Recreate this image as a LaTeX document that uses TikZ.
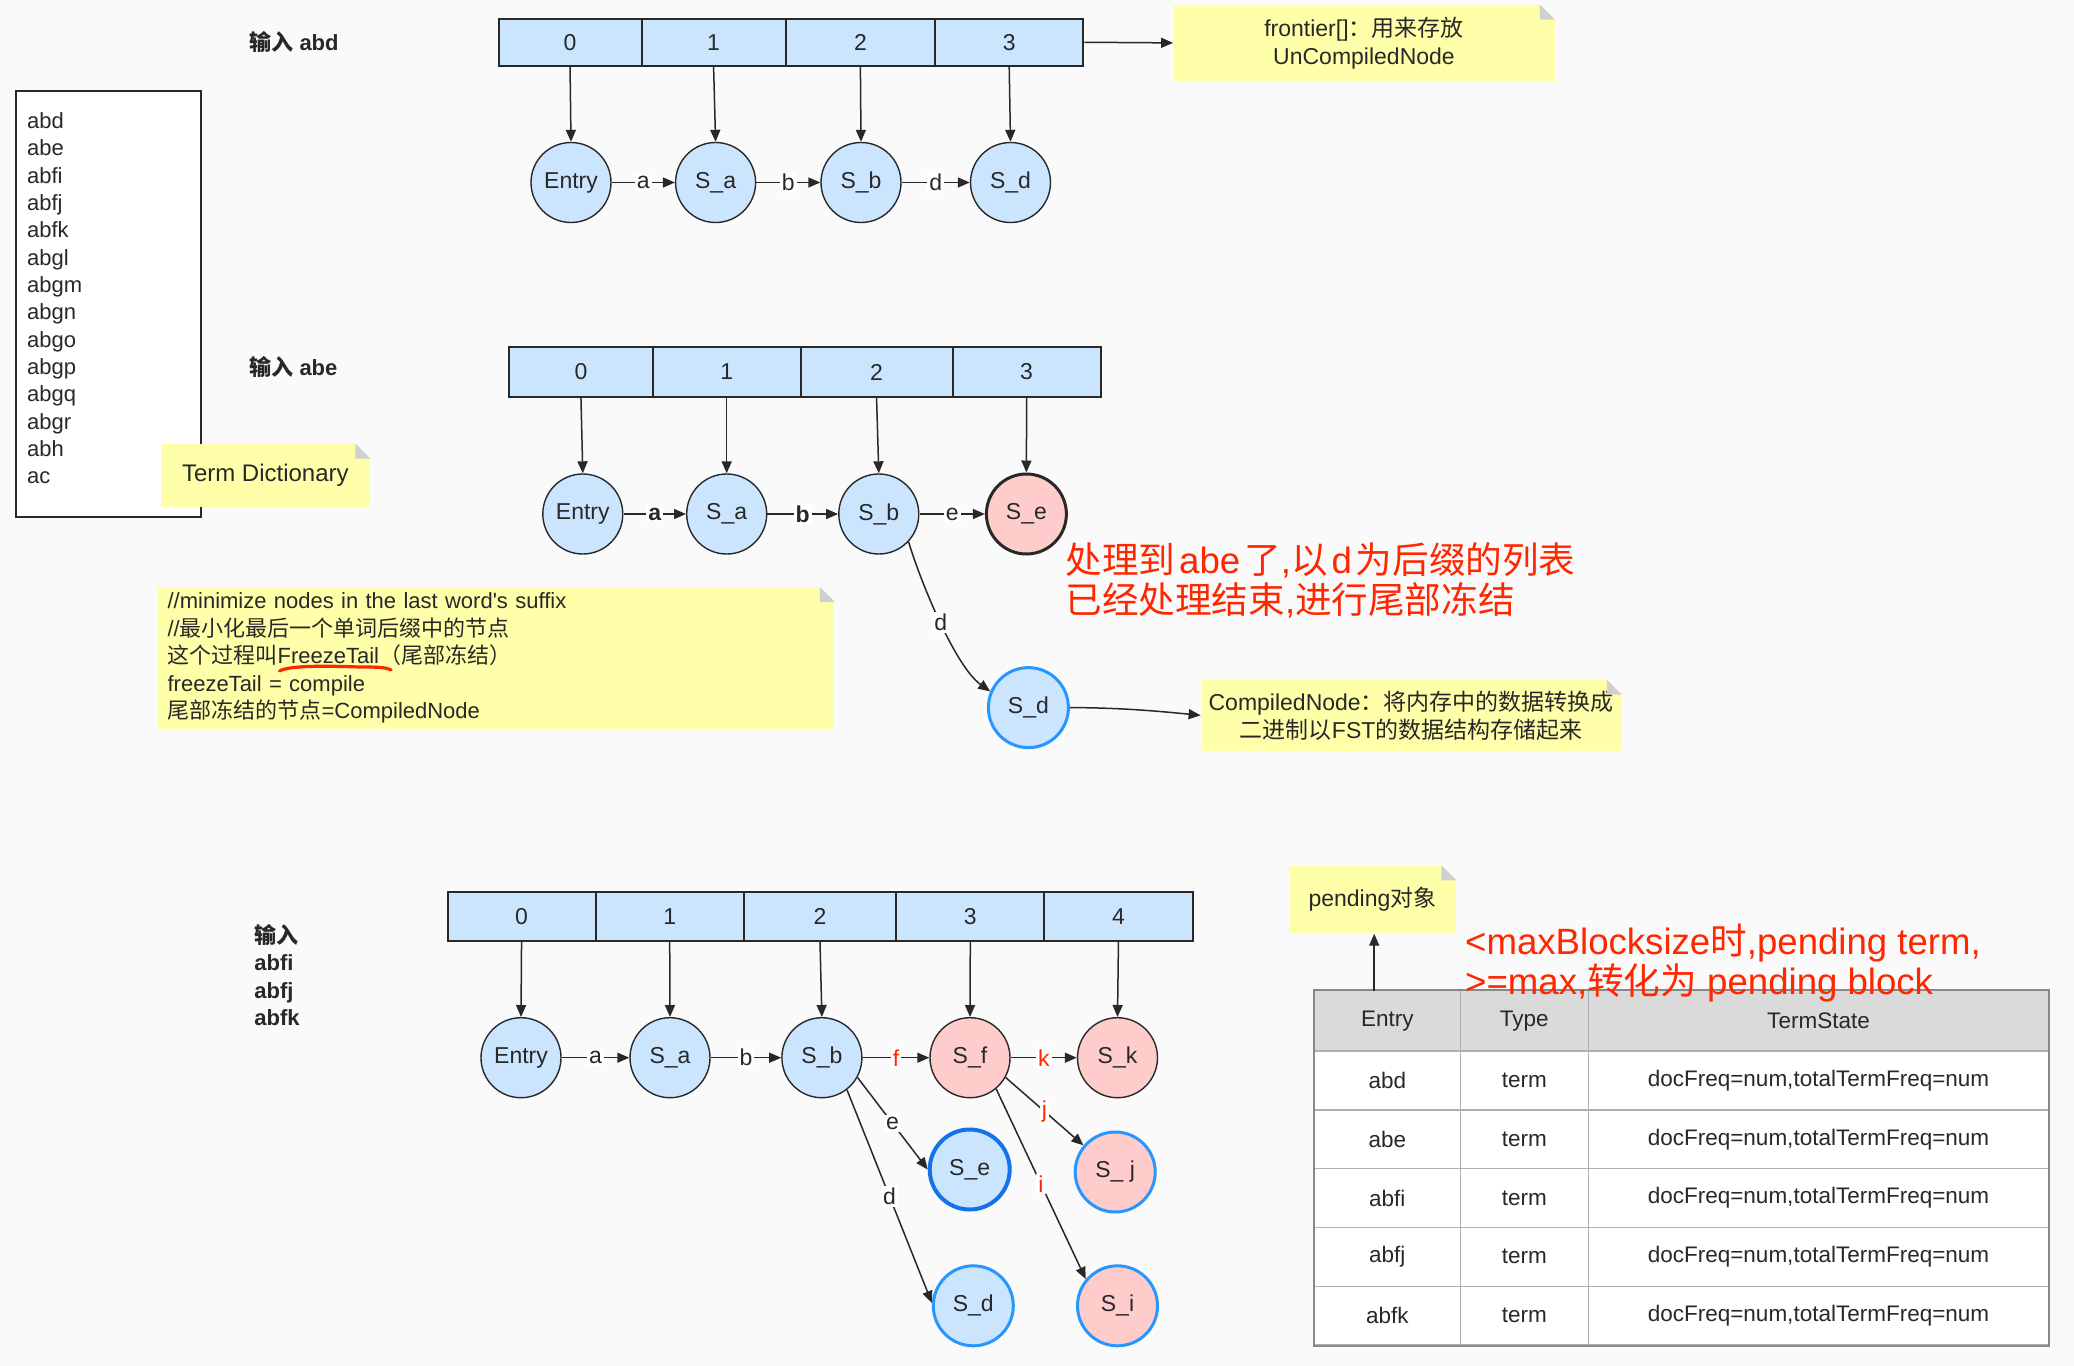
\documentclass[tikz,border=0pt]{standalone}
\usepackage{fontspec}
\setmainfont{Liberation Sans}[Ligatures=TeXOff]
\newfontfamily\cjk{Noto Sans CJK SC}
\usetikzlibrary{arrows.meta,calc}

\definecolor{bgc}{RGB}{250,250,250}
\definecolor{nodeblue}{RGB}{204,229,255}
\definecolor{nodepink}{RGB}{255,204,204}
\definecolor{noteyel}{RGB}{255,255,170}
\definecolor{foldgrey}{RGB}{208,208,208}
\definecolor{ink}{RGB}{40,40,40}
\definecolor{hired}{RGB}{255,38,0}
\definecolor{doneblue}{RGB}{40,150,255}
\definecolor{deepblue}{RGB}{20,115,232}
\definecolor{tabhead}{RGB}{218,218,218}
\definecolor{tabline}{RGB}{176,176,176}
\definecolor{tabedge}{RGB}{136,136,136}

\tikzset{
  txt/.style={font=\fontsize{11.5}{14}\selectfont, text=ink},
  smalltxt/.style={font=\fontsize{11}{13.7}\selectfont, text=ink},
  txtb/.style={font=\fontsize{11}{13.7}\selectfont\bfseries, text=ink},
  state/.style={circle, draw=ink, line width=0.7pt, fill=nodeblue,
    minimum size=40pt, inner sep=0pt, txt},
  hot/.style={state, fill=nodepink},
  frozen/.style={line width=1.5pt, draw=doneblue},
  cell/.style={rectangle, draw=ink, line width=1pt, fill=nodeblue,
    inner sep=0pt, txt},
  arr/.style={draw=ink, line width=0.75pt, -{Triangle[length=6pt,width=5pt]}},
  elab/.style={fill=white, inner sep=1pt, txt},
  note/.style={fill=noteyel, inner sep=0pt, txt},
  redtxt/.style={font=\fontsize{18.3}{20}\selectfont, text=hired},
  tcell/.style={rectangle, draw=tabline, line width=0.7pt, fill=white,
    inner sep=0pt, font=\fontsize{11.25}{13.7}\selectfont, text=ink},
}

% folded top-right corner of a sticky note
\newcommand\notefold[1]{%
  \fill[bgc] (#1.north east) -- ++(-15,0) -- ++(15,15) -- cycle;
  \fill[foldgrey] ($(#1.north east)+(-15,0)$) -- ++(0,15) -- ++(15,0) -- cycle;}
\newcommand\gap{\hspace{2pt}}

\begin{document}
\begin{tikzpicture}[x=0.5pt,y=-0.5pt]
\fill[bgc] (0,0) rectangle (2074,1366);
\useasboundingbox (0,0) rectangle (2074,1366);

% ---------- term dictionary ----------
\node[draw=ink, fill=white, line width=0.75pt, minimum width=92.5pt,
      minimum height=213pt, inner sep=0pt] (dict) at (108.5,304) {};
\foreach \w [count=\i] in {abd,abe,abfi,abfj,abfk,abgl,abgm,abgn,abgo,abgp,abgq,abgr,abh,ac}
  \node[smalltxt, anchor=base west, inner sep=0pt] (w\i) at (26.7,{128.3+27.36*(\i-1)}) {\w};
\node[note, font=\fontsize{12}{14}\selectfont, minimum width=104.65pt, minimum height=31.35pt]
      (termdict) at (265.35,475.35) {Term Dictionary};
\notefold{termdict}

% ---------- step 1: input abd ----------
\node[txtb, anchor=west, inner sep=0pt] (in1) at (249,41.7) {{\cjk 输入} abd};
\node[cell, minimum width=71.45pt, minimum height=23.75pt] (r1c0) at (570.05,42.25) {0};
\node[cell, minimum width=72.1pt,  minimum height=23.75pt] (r1c1) at (713.6,42.25) {1};
\node[cell, minimum width=74.7pt,  minimum height=23.75pt] (r1c2) at (860.4,42.25) {2};
\node[cell, minimum width=74.1pt,  minimum height=23.75pt] (r1c3) at (1009.2,42.25) {3};

\node[note, minimum width=190.55pt, minimum height=37.85pt, align=center] (frontier)
      at (1364,42.9) {frontier[]{\cjk ：用来存放}\\UnCompiledNode};
\notefold{frontier}
\draw[arr] (r1c3.east) -- (frontier.west);

\node[state] (e1)  at (571,182.5)   {Entry};
\node[state] (sa1) at (715.6,182.5) {S\_a};
\node[state] (sb1) at (861,182.5)   {S\_b};
\node[state] (sd1) at (1010.5,182.5) {S\_d};
\draw[arr] (r1c0.south) -- (e1.north);
\draw[arr] (r1c1.south) -- (sa1.north);
\draw[arr] (r1c2.south) -- (sb1.north);
\draw[arr] (r1c3.south) -- (sd1.north);
\draw[arr] (e1) -- node[elab] {a} (sa1);
\draw[arr] (sa1) -- node[elab] {b} (sb1);
\draw[arr] (sb1) -- node[elab] {d} (sd1);

% ---------- step 2: input abe ----------
\node[txtb, anchor=west, inner sep=0pt] (in2) at (249,367) {{\cjk 输入} abe};
\node[cell, minimum width=71.95pt, minimum height=24.7pt] (r2c0) at (580.95,372) {0};
\node[cell, minimum width=73.8pt,  minimum height=24.7pt] (r2c1) at (726.7,372) {1};
\node[cell, minimum width=76.05pt, minimum height=24.7pt] (r2c2) at (876.55,372) {2};
\node[cell, minimum width=74pt,    minimum height=24.7pt] (r2c3) at (1026.6,372) {3};

\node[state] (e2)  at (582.8,514) {Entry};
\node[state] (sa2) at (726.7,514) {S\_a};
\node[state] (sb2) at (878.8,514) {S\_b};
\node[hot, line width=1.5pt] (se2) at (1026.4,514) {S\_e};
\node[state, frozen] (sd2) at (1028.4,707.6) {S\_d};
\draw[arr] (r2c0.south) -- (e2.north);
\draw[arr] (r2c1.south) -- (sa2.north);
\draw[arr] (r2c2.south) -- (sb2.north);
\draw[arr] (r2c3.south) -- (se2.north);
\draw[arr] (e2) -- node[elab, font=\fontsize{11.5}{14}\selectfont\bfseries] {a} (sa2);
\draw[arr] (sa2) -- node[elab, font=\fontsize{11.5}{14}\selectfont\bfseries] {b} (sb2);
\draw[arr] (sb2) -- node[elab] {e} (se2);
\draw[arr] (sb2.-43) .. controls +(12,40) and +(-35,-25) .. node[elab] {d} (sd2.157);

\node[redtxt, anchor=west, align=left, inner sep=0pt] (remark1) at (1065,580.3)
  {{\cjk 处理到}\gap abe\gap{\cjk 了},{\cjk 以}\gap d\gap{\cjk 为后缀的列表}\\{\cjk 已经处理结束},{\cjk 进行尾部冻结}};

\node[note, minimum width=210.2pt, minimum height=35.35pt, align=center] (compiled)
      at (1411.2,715.35) {CompiledNode{\cjk ：将内存中的数据转换成}\\{\cjk 二进制以}FST{\cjk 的数据结构存储起来}};
\notefold{compiled}
\draw[arr] (sd2.east) .. controls +(50,0) and +(-40,-4) .. (compiled.west);

\node[note, smalltxt, minimum width=338.4pt, minimum height=70.7pt, align=left,
      text width=328.4pt, inner xsep=5pt] (freeze) at (496,658)
  {//minimize nodes in the last word's suffix\\
   //{\cjk 最小化最后一个单词后缀中的节点}\\
   {\cjk 这个过程叫}FreezeTail{\cjk （尾部冻结）}\\
   freezeTail = compile\\
   {\cjk 尾部冻结的节点}=CompiledNode};
\notefold{freeze}
\draw[hired, line width=1.6pt, line cap=round]
  (279.5,671) .. controls (290,665) and (330,666) .. (360,667)
  .. controls (375,667) and (386,667) .. (391,670);

% ---------- step 3: input abfi, abfj, abfk ----------
\node[txtb, anchor=west, align=left, inner sep=0pt] (in3) at (254,975)
  {{\cjk 输入}\\abfi\\abfj\\abfk};
\node[cell, minimum width=74.05pt, minimum height=24.65pt] (r3c0) at (521.55,916.35) {0};
\node[cell, minimum width=74.1pt,  minimum height=24.65pt] (r3c1) at (669.7,916.35) {1};
\node[cell, minimum width=76.25pt, minimum height=24.65pt] (r3c2) at (820,916.35) {2};
\node[cell, minimum width=74.1pt,  minimum height=24.65pt] (r3c3) at (970.3,916.35) {3};
\node[cell, minimum width=74.05pt, minimum height=24.65pt] (r3c4) at (1118.45,916.35) {4};

\node[state] (e3)  at (521,1057.7)   {Entry};
\node[state] (sa3) at (670,1057.7)   {S\_a};
\node[state] (sb3) at (821.9,1057.7) {S\_b};
\node[hot]   (sf3) at (970,1057.7)   {S\_f};
\node[hot]   (sk3) at (1117.5,1057.7) {S\_k};
\node[state, line width=2pt, draw=deepblue] (se3) at (969.7,1169.5) {S\_e};
\node[hot, frozen]   (sj3) at (1115.2,1172)  {S\_ j};
\node[state, frozen] (sd3) at (973.3,1305.8) {S\_d};
\node[hot, frozen]   (si3) at (1117.5,1305.8) {S\_i};

\draw[arr] (r3c0.south) -- (e3.north);
\draw[arr] (r3c1.south) -- (sa3.north);
\draw[arr] (r3c2.south) -- (sb3.north);
\draw[arr] (r3c3.south) -- (sf3.north);
\draw[arr] (r3c4.south) -- (sk3.north);
\draw[arr] (e3) -- node[elab] {a} (sa3);
\draw[arr] (sa3) -- node[elab] {b} (sb3);
\draw[arr] (sb3) -- node[elab, text=hired] {f} (sf3);
\draw[arr] (sf3) -- node[elab, text=hired] {k} (sk3);
\draw[arr] (sb3.-29) -- node[elab] {e} (se3.180);
\draw[arr] (sb3.-52) -- node[elab] {d} (sd3.176);
\draw[arr] (sf3.-29) -- node[elab, text=hired] {j} (sj3.140);
\draw[arr] (sf3.-50) -- node[elab, text=hired] {i} (si3.140);

% ---------- pending table ----------
\node[tcell, fill=tabhead, minimum width=72.95pt, minimum height=30.15pt] (hE) at (1387.35,1020.85) {Entry};
\node[tcell, fill=tabhead, minimum width=64.05pt, minimum height=30.15pt] (hT) at (1524.35,1020.85) {Type};
\node[tcell, fill=tabhead, minimum width=230.1pt, minimum height=30.15pt] (hS) at (1818.5,1020.85) {TermState};
\foreach \w [count=\i] in {abd,abe,abfi,abfj,abfk} {
  \node[tcell, minimum width=72.95pt, minimum height=29.4pt] (t\i e) at (1387.35,{1021.6+58.8*\i}) {\w};
  \node[tcell, minimum width=64.05pt, minimum height=29.4pt] (t\i t) at (1524.35,{1021.6+58.8*\i}) {term};
  \node[tcell, minimum width=230.1pt, minimum height=29.4pt] (t\i s) at (1818.5,{1021.6+58.8*\i}) {docFreq=num,totalTermFreq=num};
}
\draw[tabedge, line width=1.1pt] (hE.north west) rectangle (t5s.south east);

\node[note, minimum width=83.5pt, minimum height=33.8pt] (pending) at (1372.5,899.5) {pending{\cjk 对象}};
\notefold{pending}
\coordinate (tabtop) at (1374.2,990.7);
\draw[arr] (tabtop) -- (tabtop |- pending.south);

\node[redtxt, anchor=west, align=left, inner sep=0pt] (remark2) at (1464.8,963.3)
  {<maxBlocksize{\cjk 时},pending term,\\>=max,{\cjk 转化为} pending block};

\end{tikzpicture}
\end{document}
